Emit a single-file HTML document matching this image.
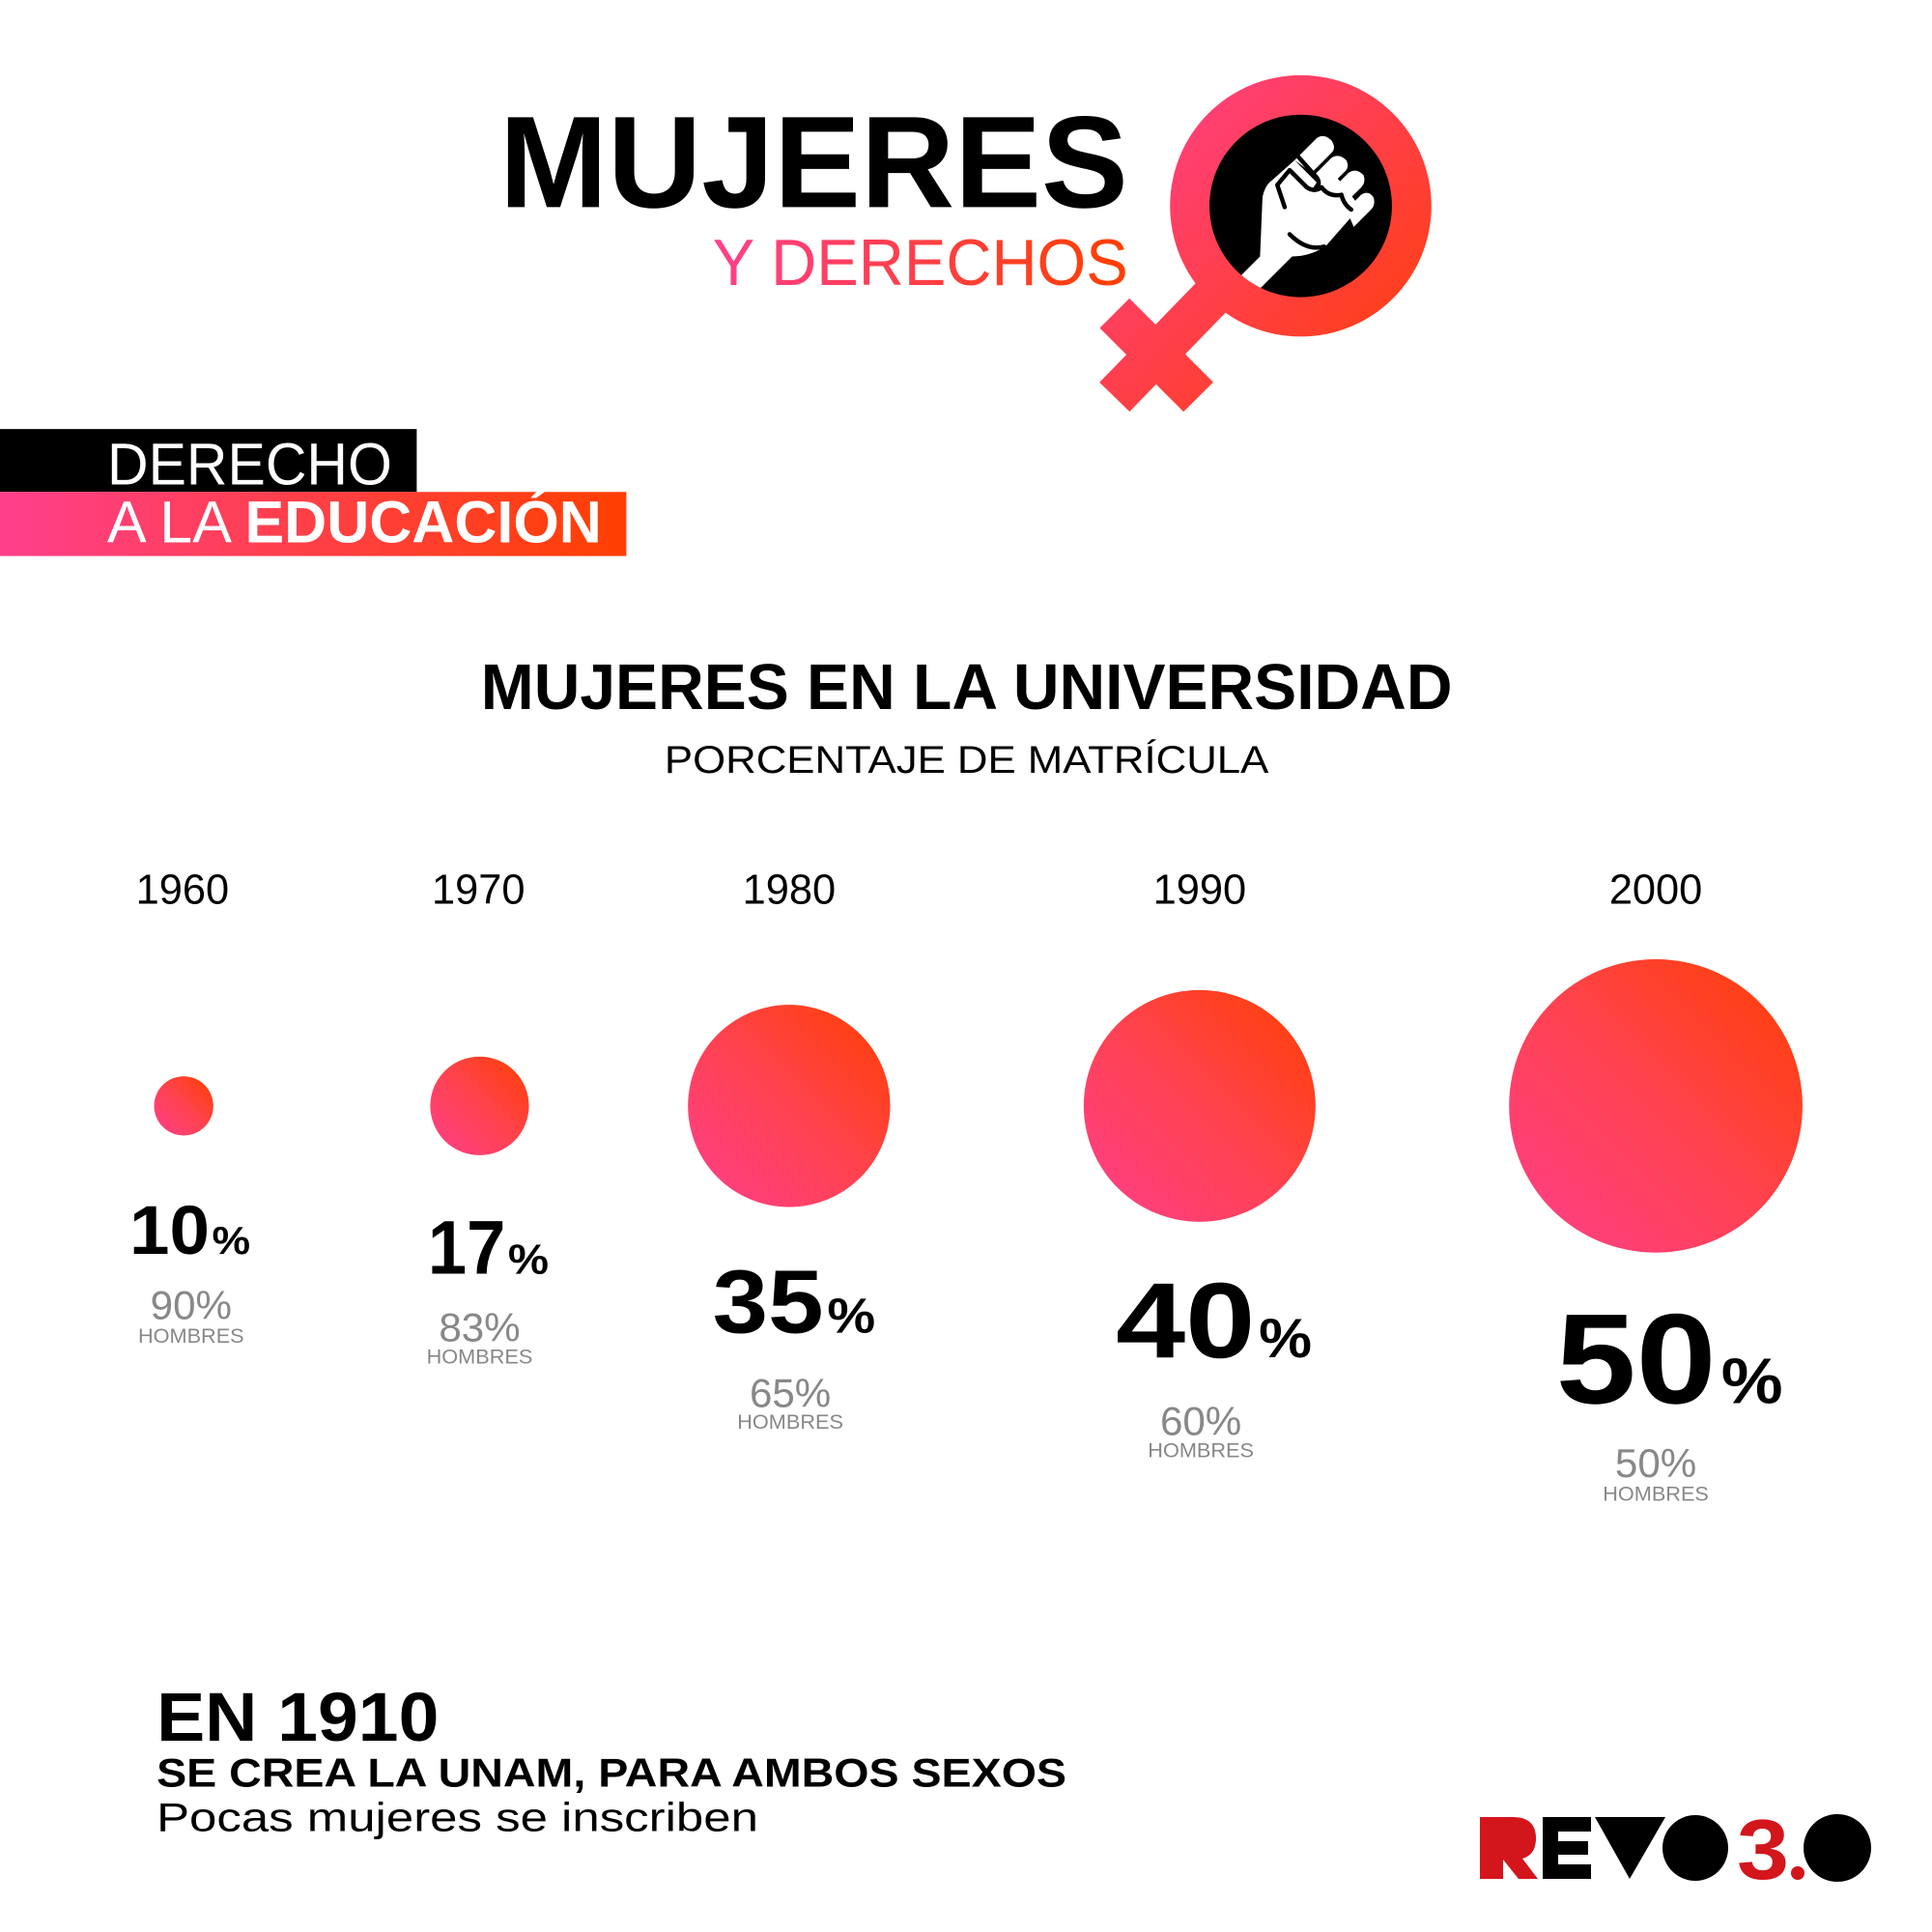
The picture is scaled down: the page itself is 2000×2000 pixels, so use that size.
<!DOCTYPE html>
<html><head><meta charset="utf-8"><style>
html,body{margin:0;padding:0;background:#fff;}
svg{display:block;}
text{font-family:"Liberation Sans",sans-serif;}
</style></head><body>
<svg width="2000" height="2000" viewBox="0 0 2000 2000" xmlns="http://www.w3.org/2000/svg">
<defs>
<linearGradient id="g" x1="0" y1="1" x2="1" y2="0"><stop offset="0" stop-color="#ff3f8c"/><stop offset="0.5" stop-color="#ff4250"/><stop offset="1" stop-color="#ff3f00"/></linearGradient>
<linearGradient id="gh" x1="0" y1="0" x2="1" y2="0"><stop offset="0" stop-color="#ff3f8c"/><stop offset="1" stop-color="#ff3f00"/></linearGradient>
<linearGradient id="gs" gradientUnits="userSpaceOnUse" x1="900" y1="80" x2="1160" y2="330"><stop offset="0" stop-color="#ff3f8c"/><stop offset="1" stop-color="#ff3f00"/></linearGradient>
<linearGradient id="gt" gradientUnits="userSpaceOnUse" x1="578" y1="0" x2="915" y2="0"><stop offset="0" stop-color="#ff3f8c"/><stop offset="1" stop-color="#ff3f00"/></linearGradient>
<clipPath id="disk"><circle cx="1055" cy="167" r="74"/></clipPath>
</defs>
<rect width="2000" height="2000" fill="#fff"/>
<g transform="scale(1.2763)">
<text x="405" y="168" font-size="106" font-weight="900" textLength="510" lengthAdjust="spacingAndGlyphs">MUJERES</text>
<text x="578" y="231" font-size="53" fill="url(#gt)" textLength="337" lengthAdjust="spacingAndGlyphs">Y DERECHOS</text>
<line x1="904" y1="322" x2="1000" y2="223" stroke="url(#gs)" stroke-width="34"/>
<line x1="904" y1="254" x2="972" y2="322" stroke="url(#gs)" stroke-width="34"/>
<circle cx="1055" cy="167" r="106" fill="url(#gs)"/>
<circle cx="1055" cy="167" r="74" fill="#000"/>
<g clip-path="url(#disk)" fill="#fff">
<path d="M980 250 L1022 208 L1024 160 Q1026 150 1032 146 L1050 130 L1068 148 L1064 154 L1080 140 L1090 150 L1100 164 L1096 176 L1075 200 Q1062 208 1048 208 L1010 246 Z"/>
<path d="M1050 130 L1068 112 Q1074 108 1080 114 Q1084 120 1080 124 L1064 140 Z"/>
<path d="M1066 142 L1080 128 Q1086 124 1092 130 Q1095 136 1090 140 L1076 154 Z"/>
<path d="M1080 154 L1094 140 Q1100 136 1106 142 Q1108 148 1104 152 L1090 166 Z"/>
<path d="M1092 170 L1104 158 Q1110 154 1114 160 Q1116 166 1112 170 L1098 184 Z"/>
</g>
<g fill="none" stroke="#000" stroke-width="3.5" stroke-linecap="round" stroke-linejoin="round">
<path d="M1046 190 Q1060 204 1074 200"/>
<path d="M1042 168 L1036 150 L1046 138 L1060 152 Q1066 156 1072 152"/>
<path d="M1052 126 L1068 144 Q1072 150 1066 154"/>
<path d="M1072 152 Q1078 160 1088 158 Q1090 166 1096 170"/>
</g>
<rect x="0" y="348" width="338" height="51" fill="#000"/>
<rect x="0" y="399" width="508" height="52" fill="url(#gh)"/>
<text x="87" y="393" font-size="48" fill="#fff" textLength="231" lengthAdjust="spacingAndGlyphs">DERECHO</text>
<text x="87" y="440" font-size="48" fill="#fff" textLength="401" lengthAdjust="spacingAndGlyphs">A LA <tspan font-weight="900">EDUCACIÓN</tspan></text>
<text x="390" y="575" font-size="52" font-weight="900" textLength="788" lengthAdjust="spacingAndGlyphs">MUJERES EN LA UNIVERSIDAD</text>
<text x="539" y="627" font-size="31" textLength="490" lengthAdjust="spacingAndGlyphs">PORCENTAJE DE MATRÍCULA</text>
<g font-size="34" text-anchor="middle">
<text x="148" y="733">1960</text><text x="388" y="733">1970</text><text x="640" y="733">1980</text><text x="973" y="733">1990</text><text x="1343" y="733">2000</text>
</g>
<circle cx="149" cy="897" r="24" fill="url(#g)"/>
<circle cx="389" cy="897" r="40" fill="url(#g)"/>
<circle cx="640" cy="897" r="82" fill="url(#g)"/>
<circle cx="973" cy="897" r="94" fill="url(#g)"/>
<circle cx="1343" cy="897" r="119" fill="url(#g)"/>
<g font-weight="900">
<text x="105" y="1017" font-size="56" textLength="65" lengthAdjust="spacingAndGlyphs">10</text><text x="172" y="1017" font-size="32" textLength="31" lengthAdjust="spacingAndGlyphs">%</text>
<text x="347" y="1033" font-size="62" textLength="63" lengthAdjust="spacingAndGlyphs">17</text><text x="412" y="1033" font-size="34" textLength="33" lengthAdjust="spacingAndGlyphs">%</text>
<text x="578" y="1081" font-size="73" textLength="90" lengthAdjust="spacingAndGlyphs">35</text><text x="671" y="1081" font-size="40" textLength="39" lengthAdjust="spacingAndGlyphs">%</text>
<text x="905" y="1101" font-size="87" textLength="113" lengthAdjust="spacingAndGlyphs">40</text><text x="1021" y="1101" font-size="45" textLength="43" lengthAdjust="spacingAndGlyphs">%</text>
<text x="1262" y="1138" font-size="104" textLength="130" lengthAdjust="spacingAndGlyphs">50</text><text x="1396" y="1138" font-size="52" textLength="50" lengthAdjust="spacingAndGlyphs">%</text>
</g>
<g fill="#888" text-anchor="middle">
<text x="155" y="1070" font-size="33">90%</text><text x="155" y="1089" font-size="17">HOMBRES</text>
<text x="389" y="1088" font-size="33">83%</text><text x="389" y="1106" font-size="17">HOMBRES</text>
<text x="641" y="1141" font-size="33">65%</text><text x="641" y="1159" font-size="17">HOMBRES</text>
<text x="974" y="1164" font-size="33">60%</text><text x="974" y="1182" font-size="17">HOMBRES</text>
<text x="1343" y="1198" font-size="33">50%</text><text x="1343" y="1217" font-size="17">HOMBRES</text>
</g>
<text x="127" y="1412" font-size="56" font-weight="900" textLength="229" lengthAdjust="spacingAndGlyphs">EN 1910</text>
<text x="127" y="1449" font-size="33" font-weight="900" textLength="738" lengthAdjust="spacingAndGlyphs">SE CREA LA UNAM, PARA AMBOS SEXOS</text>
<text x="127" y="1485" font-size="33" textLength="488" lengthAdjust="spacingAndGlyphs">Pocas mujeres se inscriben</text>
</g>
<g>
<path d="M1532 1881 H1566 Q1590 1881 1590 1903 Q1590 1920 1576 1924 L1592 1945 H1572 L1556 1925 V1945 H1532 Z" fill="#d3151c"/>
<path d="M1597 1881 H1647 V1896 H1613 V1906 H1644 V1920 H1613 V1930 H1647 V1945 H1597 Z" fill="#000"/>
<path d="M1651 1881 H1724 L1687 1945 Z" fill="#000"/>
<circle cx="1755" cy="1913" r="34" fill="#000"/>
<text x="1798" y="1945" font-size="88" font-weight="bold" fill="#d3151c" textLength="54" lengthAdjust="spacingAndGlyphs">3</text>
<circle cx="1861" cy="1939" r="7" fill="#d3151c"/>
<circle cx="1902" cy="1913" r="35" fill="#000"/>
</g>
</svg>
</body></html>
